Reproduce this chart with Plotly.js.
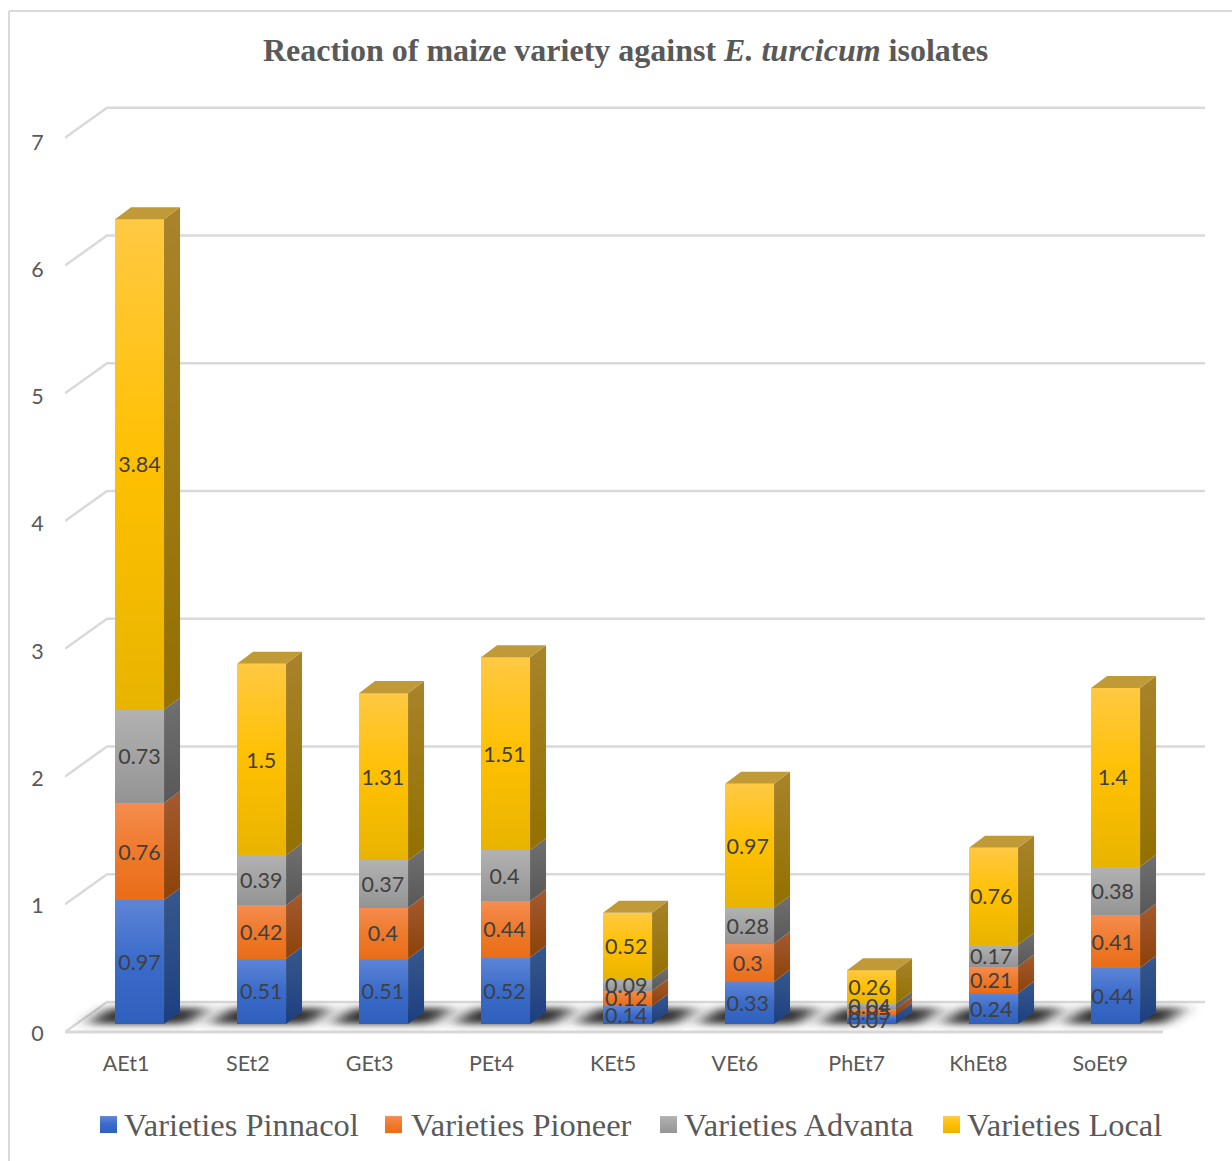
<!DOCTYPE html>
<html>
<head>
<meta charset="utf-8">
<script src="https://cdn.plot.ly/plotly-3.0.1.min.js"></script>
<style>html,body{margin:0;padding:0;background:#fff}#chart{width:1232px;height:1161px}</style>
</head>
<body>
<div id="chart"></div>
<script>
// Isolates along the category axis
const categories = ['AEt1','SEt2','GEt3','PEt4','KEt5','VEt6','PhEt7','KhEt8','SoEt9'];

// Disease reaction per maize variety
const pinnacol = [0.97,0.51,0.51,0.52,0.14,0.33,0.07,0.24,0.44];
const pioneer  = [0.76,0.42,0.40,0.44,0.12,0.30,0.05,0.21,0.41];
const advanta  = [0.73,0.39,0.37,0.40,0.09,0.28,0.04,0.17,0.38];
const local    = [3.84,1.50,1.31,1.51,0.52,0.97,0.26,0.76,1.40];

const seriesNames = ['Varieties Pinnacol','Varieties Pioneer','Varieties Advanta','Varieties Local'];
const seriesValues = [pinnacol, pioneer, advanta, local];
const yTicks = [0,1,2,3,4,5,6,7];

// Box projection, in axis units
const barWidth = 0.4016, depthX = 0.131, depthY = 0.094;
const wallRise = 0.172, frontDrop = 0.0627;
const floorLeft = -0.611, wallLeft = -0.2664, wallRight = 8.733, floorRight = 8.389;
const labelShiftX = -0.11;

// Pixel box of the plot area
const plotL = 65, plotT = 100, plotW = 1140, plotH = 940;
const paperX = px => (px - plotL) / plotW;
const paperY = py => 1 - (py - plotT) / plotH;

// Legend layout: left edges of the swatches and their captions
const legendSwatchLeft = [100, 385, 660, 943];
const legendTextLeft = [124, 411, 684, 967];

// Face gradients
const palette = [
  {front:['#5d85d6','#3a6bca','#2f60bd'], side:['#37588c','#1d3f80'], solid:'#4472c4'},
  {front:['#f68c4f','#ee7a2c','#ea6d17'], side:['#a55a30','#8c4208'], solid:'#ed7d31'},
  {front:['#b2b2b2','#a3a3a3','#949494'], side:['#707070','#585858'], solid:'#a5a5a5'},
  {front:['#ffc943','#ffc000','#e8b400'], side:['#a8832a','#937000'], solid:'#ffc000'}
];
const topFace = '#bf9a36';

const xIndex = categories.map((_, i) => i);
const traces = [];

// Front faces: native stacked bars with their value labels
seriesValues.forEach((vals, s) => {
  traces.push({
    type:'bar', name:seriesNames[s], x:xIndex, y:vals, width:barWidth,
    marker:{color:palette[s].solid, line:{width:0}},
    text:vals.map(String), textposition:'inside', insidetextanchor:'middle',
    textangle:0, constraintext:'none', cliponaxis:false,
    textfont:{family:'Lato, Carlito, sans-serif', size:21.5, color:'#404040'},
    hoverinfo:'x+y'
  });
});

// Side and top faces, offset from the same stacked values
const sideIndex = [];
xIndex.forEach(i => {
  let base = 0;
  const right = i + barWidth/2, left = i - barWidth/2;
  seriesValues.forEach((vals, s) => {
    const top = base + vals[i];
    sideIndex.push(s);
    traces.push({
      type:'scatter', mode:'lines', fill:'toself', showlegend:false, hoverinfo:'skip',
      x:[right, right+depthX, right+depthX, right, right],
      y:[base, base+depthY, top+depthY, top, base],
      line:{width:0}, fillcolor:palette[s].side[0]
    });
    base = top;
  });
  traces.push({
    type:'scatter', mode:'lines', fill:'toself', showlegend:false, hoverinfo:'skip',
    x:[left, right, right+depthX, left+depthX, left],
    y:[base, base, base+depthY, base+depthY, base],
    line:{width:0}, fillcolor:topFace
  });
  sideIndex.push(-1);
});

// Back wall grid, floor and the soft shadows under each bar
const gridColor = '#d9d9d9';
const shapes = [];
shapes.push({type:'path', layer:'below', xref:'x', yref:'y',
  path:`M${floorLeft},${-frontDrop}L${floorRight},${-frontDrop}L${wallRight},${wallRise}L${wallLeft},${wallRise}Z`,
  fillcolor:'#fdfdfd', line:{width:0}});
yTicks.forEach(t => {
  shapes.push({type:'path', layer:'below', xref:'x', yref:'y',
    path:`M${floorLeft},${t-frontDrop}L${wallLeft},${t+wallRise}L${wallRight},${t+wallRise}`,
    line:{color:gridColor, width:2.5}});
});
shapes.push({type:'line', layer:'below', xref:'x', yref:'y',
  x0:floorLeft, x1:floorRight, y0:-frontDrop, y1:-frontDrop, line:{color:gridColor, width:3}});
const shadowStart = shapes.length;
xIndex.forEach(i => {
  const l = i - 0.43, r = i + 0.39, sx = 0.18, y0 = 0.0, y1 = 0.125;
  shapes.push({type:'path', layer:'below', xref:'x', yref:'y',
    path:`M${l},${y0}L${r},${y0}L${r+sx},${y1}L${l+sx},${y1}Z`,
    fillcolor:'#303030', line:{width:0}});
});
const shadowEnd = shapes.length;

// Chart frame: top and left edges only
shapes.push({type:'line', layer:'below', xref:'paper', yref:'paper',
  x0:paperX(9), x1:paperX(1232), y0:paperY(11), y1:paperY(11), line:{color:gridColor, width:2}});
shapes.push({type:'line', layer:'below', xref:'paper', yref:'paper',
  x0:paperX(9), x1:paperX(9), y0:paperY(11), y1:paperY(1161), line:{color:gridColor, width:2}});

const layout = {
  width:1232, height:1161,
  margin:{l:plotL, r:1232-plotL-plotW, t:plotT, b:1161-plotT-plotH, pad:0},
  paper_bgcolor:'#ffffff', plot_bgcolor:'rgba(0,0,0,0)',
  barmode:'stack', showlegend:true,
  title:{text:'<b>Reaction of maize variety against <i>E. turcicum</i> isolates</b>',
    font:{family:'"Liberation Serif", serif', size:32, color:'#595959'},
    x:625.5/1232, xref:'container', xanchor:'center', y:1-50/1161, yref:'container', yanchor:'middle'},
  xaxis:{range:[floorLeft, wallRight], showgrid:false, zeroline:false, showline:false,
    tickmode:'array', tickvals:xIndex.map(i => i*0.998 + labelShiftX), ticktext:categories,
    ticks:'outside', ticklen:4, tickcolor:'rgba(0,0,0,0)',
    tickfont:{family:'Lato, Carlito, sans-serif', size:21.5, color:'#595959'}},
  yaxis:{range:[-0.1252, 7.2328], showgrid:false, zeroline:false, showline:false,
    tickmode:'array', tickvals:yTicks.map(t => t*0.9964 - 0.0705), ticktext:yTicks.map(String),
    ticks:'outside', ticklen:16, tickcolor:'rgba(0,0,0,0)',
    tickfont:{family:'Lato, Carlito, sans-serif', size:21.5, color:'#595959'}},
  legend:{orientation:'h', x:625/1232, xref:'container', xanchor:'center', y:1-1125/1161, yref:'container', yanchor:'middle',
    traceorder:'normal', font:{family:'"Liberation Serif", serif', size:32.4, color:'#595959'},
    itemclick:false, itemdoubleclick:false, bgcolor:'rgba(0,0,0,0)'},
  shapes:shapes
};

// Adds linear gradient definitions and a soft shadow filter to the rendered svg
function addDefs(svg) {
  const ns = 'http://www.w3.org/2000/svg';
  const defs = document.createElementNS(ns, 'defs');
  const grad = (id, stops) => {
    const g = document.createElementNS(ns, 'linearGradient');
    g.setAttribute('id', id);
    g.setAttribute('x1','0'); g.setAttribute('y1','0'); g.setAttribute('x2','0'); g.setAttribute('y2','1');
    stops.forEach((c, k) => {
      const st = document.createElementNS(ns, 'stop');
      st.setAttribute('offset', k/(stops.length-1));
      st.setAttribute('stop-color', c);
      g.appendChild(st);
    });
    defs.appendChild(g);
  };
  palette.forEach((p, s) => { grad('front'+s, p.front); grad('side'+s, p.side); });
  const f = document.createElementNS(ns, 'filter');
  f.setAttribute('id','soft');
  f.setAttribute('x','-40%'); f.setAttribute('y','-100%'); f.setAttribute('width','180%'); f.setAttribute('height','300%');
  const b = document.createElementNS(ns, 'feGaussianBlur');
  b.setAttribute('stdDeviation','9 3.5');
  f.appendChild(b);
  defs.appendChild(f);
  svg.insertBefore(defs, svg.firstChild);
}

const gd = document.getElementById('chart');
Plotly.newPlot(gd, traces, layout, {displayModeBar:false, responsive:false}).then(() => {
  const svg = gd.querySelector('svg.main-svg');
  const ns = 'http://www.w3.org/2000/svg';
  addDefs(svg);

  // Gradient fills on the bar fronts
  gd.querySelectorAll('.barlayer .trace.bars').forEach((tr, s) => {
    tr.querySelectorAll('.point path').forEach(p => { p.style.fill = `url(#front${s})`; });
  });

  // Value labels sit above every front face, drifting slightly left along the axis
  const barLayer = gd.querySelector('.barlayer');
  const labelGroup = document.createElementNS(ns, 'g');
  gd.querySelectorAll('.barlayer .trace.bars').forEach(tr => {
    tr.querySelectorAll('.bartext').forEach((t, i) => {
      const wrap = document.createElementNS(ns, 'g');
      wrap.setAttribute('transform', `translate(${-0.35*i},0)`);
      wrap.appendChild(t);
      labelGroup.appendChild(wrap);
    });
  });
  barLayer.appendChild(labelGroup);

  // Gradient fills on the side faces
  gd.querySelectorAll('.scatterlayer .trace').forEach((tr, k) => {
    const s = sideIndex[k];
    const fill = tr.querySelector('.js-fill');
    if (fill && s >= 0) fill.style.fill = `url(#side${s})`;
  });

  // Blur the floor shadows
  gd.querySelectorAll('.shapelayer path').forEach(p => {
    const idx = +p.getAttribute('data-index');
    if (idx >= shadowStart && idx < shadowEnd) { p.removeAttribute('clip-path'); p.style.filter = 'url(#soft)'; }
  });

  // Legend swatches and captions at their own spacing
  const box = gd.querySelector('.legend .scrollbox');
  if (box) box.removeAttribute('clip-path');
  gd.querySelectorAll('.legend .traces').forEach((tr, s) => {
    const sw = tr.querySelector('.legendpoints path');
    const txt = tr.querySelector('text.legendtext');
    sw.setAttribute('d','M8.5,8.5H-8.5V-8.5H8.5Z');
    sw.style.fill = `url(#front${s})`;
    const m = /translate\(([-\d.]+)[ ,]*([-\d.]*)\)/.exec(tr.getAttribute('transform') || '');
    const tx = m ? +m[1] : 0, ty = m && m[2] ? +m[2] : 0;
    const dx = legendSwatchLeft[s] - sw.getBoundingClientRect().left;
    tr.setAttribute('transform', `translate(${tx+dx},${ty})`);
    const gap = legendTextLeft[s] - txt.getBoundingClientRect().left;
    txt.setAttribute('x', +txt.getAttribute('x') + gap);
    txt.setAttribute('y', +txt.getAttribute('y') - 1.5);
  });
});
</script>
</body>
</html>
